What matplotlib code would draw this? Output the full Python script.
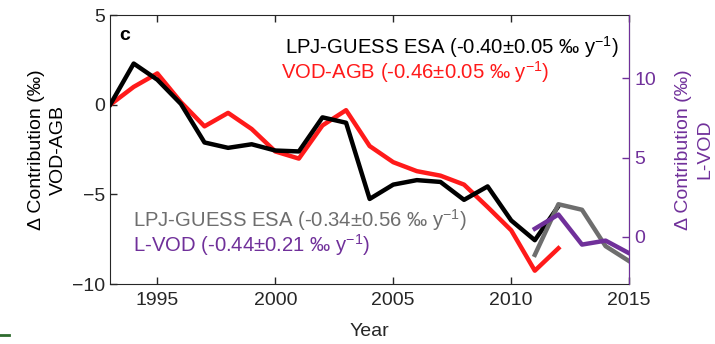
import matplotlib
matplotlib.use("Agg")
import matplotlib.pyplot as plt
from matplotlib.lines import Line2D

plt.rcParams['font.family'] = ['Liberation Sans', 'DejaVu Sans']
plt.rcParams['mathtext.fontset'] = 'custom'
plt.rcParams['mathtext.rm'] = 'Liberation Sans'

years_long = list(range(1993, 2013))
lpj_esa = [0.0, 2.3, 1.4, 0.05, -2.1, -2.4, -2.2, -2.55, -2.6, -0.7, -1.0,
           -5.25, -4.45, -4.2, -4.3, -5.3, -4.55, -6.45, -7.55, -5.65]
vod_agb = [0.0, 1.0, 1.75, 0.15, -1.2, -0.45, -1.35, -2.6, -3.0, -1.15, -0.3,
           -2.3, -3.2, -3.7, -3.95, -4.45, -5.7, -7.0, -9.25, -8.0]

years_short = list(range(2011, 2016))
lpj_esa_short = [-1.15, 2.05, 1.7, -0.6, -1.55]
l_vod = [0.5, 1.4, -0.5, -0.25, -1.05]

left_ticks = [-10, -5, 0, 5]
right_ticks = [0, 5, 10]
x_ticks = [1995, 2000, 2005, 2010, 2015]

purple = '#70309a'
grey = '#6e6e6e'
fs = 14
fs_ann = 14.6

fig = plt.figure(figsize=(7.15, 3.44), dpi=100)
ax = fig.add_axes([0.154, 0.174, 0.726, 0.782])
ax2 = ax.twinx()

ax.plot(years_long, vod_agb, color='#ff1a1a', lw=3.2, zorder=2)
ax.plot(years_long, lpj_esa, color='black', lw=3.2, zorder=3)
ax2.plot(years_short, lpj_esa_short, color=grey, lw=3.2, zorder=2)
ax2.plot(years_short, l_vod, color=purple, lw=3.2, zorder=3)

ax.set_xlim(1993, 2015)
ax.set_ylim(-10, 5)
ax2.set_ylim(-3, 14)
ax.set_xticks(x_ticks)
ax.set_yticks(left_ticks)
ax2.set_yticks(right_ticks)

ax.tick_params(axis='both', direction='in', labelsize=fs, length=5, width=1,
               top=True, right=False, colors='#262626')
ax.tick_params(axis='x', pad=6)
ax2.tick_params(axis='y', direction='in', labelsize=fs, length=5, width=1,
                colors=purple)
for s in ['left', 'bottom', 'top']:
    ax.spines[s].set_color('#262626')
ax2.spines['right'].set_color(purple)
for s in ['left', 'bottom', 'top']:
    ax2.spines[s].set_visible(False)

ax.set_xlabel('Year', fontsize=fs, color='#262626', labelpad=10)
ax.set_ylabel('Δ Contribution (‰)\nVOD-AGB', fontsize=fs, color='black',
              linespacing=1.35, labelpad=4)
ax2.set_ylabel('Δ Contribution (‰)\nL-VOD', fontsize=fs, color=purple,
               linespacing=1.35, labelpad=14)

ax.text(0.018, 0.925, 'c', transform=ax.transAxes, fontsize=fs, fontweight='bold',
        va='center', ha='left')
ax.text(0.98, 0.88, 'LPJ-GUESS ESA (-0.40±0.05 ‰ y$^{-1}$)', transform=ax.transAxes,
        fontsize=fs_ann, color='black', ha='right', va='center')
ax.text(0.33, 0.79, 'VOD-AGB (-0.46±0.05 ‰ y$^{-1}$)', transform=ax.transAxes,
        fontsize=fs_ann, color='#ff1a1a', ha='left', va='center')
ax.text(0.045, 0.24, 'LPJ-GUESS ESA (-0.34±0.56 ‰ y$^{-1}$)', transform=ax.transAxes,
        fontsize=fs_ann, color=grey, ha='left', va='center')
ax.text(0.045, 0.145, 'L-VOD (-0.44±0.21 ‰ y$^{-1}$)', transform=ax.transAxes,
        fontsize=fs_ann, color=purple, ha='left', va='center')

fig.add_artist(Line2D([0.0, 0.012], [0.026, 0.026], transform=fig.transFigure,
                      color='#2e6b2e', lw=2))

fig.savefig('out.png', dpi=100)
